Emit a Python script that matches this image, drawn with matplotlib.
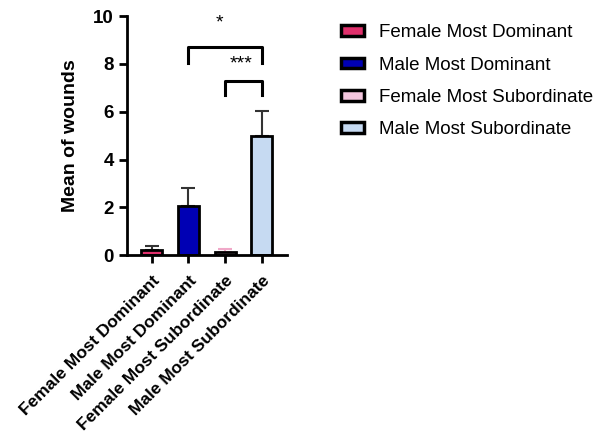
import numpy as np
import matplotlib.pyplot as plt
from matplotlib.patches import Patch

plt.rcParams['font.family'] = ['Liberation Sans', 'DejaVu Sans']

groups = ['Female Most Dominant', 'Male Most Dominant',
          'Female Most Subordinate', 'Male Most Subordinate']
means = [0.2, 2.05, 0.12, 5.0]
sem = [0.17, 0.75, 0.15, 1.05]
colors = ['#e0306c', '#0000b4', '#f4c6de', '#c6daf2']
err_colors = ['#333333', '#333333', '#f0a8c8', '#333333']

fig = plt.figure(figsize=(6.1, 4.34), dpi=100)
ax = fig.add_axes([0.208, 0.412, 0.262, 0.551])

x = np.arange(len(groups))
ax.bar(x, means, width=0.57, color=colors, edgecolor='black', linewidth=2, zorder=2)
for i in range(len(groups)):
    ax.errorbar(x[i], means[i], yerr=[[0], [sem[i]]], fmt='none',
                ecolor=err_colors[i], elinewidth=1.5, capsize=5, capthick=1.5, zorder=1)

# significance brackets
def bracket(x1, x2, y, h, label, tx, ty):
    ax.plot([x1, x1, x2, x2], [y - h, y, y, y - h], color='black', lw=2.2,
            clip_on=False)
    ax.text(tx, ty, label, ha='center', va='center', fontsize=14,
            clip_on=False)

bracket(1, 3, 8.7, 0.65, '*', 1.84, 9.7)
bracket(2, 3, 7.3, 0.6, '***', 2.43, 8.0)

ax.set_xlim(-0.68, 3.68)
ax.set_ylim(0, 10)
ax.set_yticks([0, 2, 4, 6, 8, 10])
ax.set_xticks(x)
ax.set_xticklabels(groups, rotation=45, ha='right', rotation_mode='anchor',
                   fontsize=12.5, fontweight='bold')
for lab in ax.get_yticklabels():
    lab.set_fontsize(13.5)
    lab.set_fontweight('bold')
ax.set_ylabel('Mean of wounds', fontsize=14, fontweight='bold', labelpad=10)

ax.spines['top'].set_visible(False)
ax.spines['right'].set_visible(False)
ax.spines['left'].set_linewidth(2)
ax.spines['bottom'].set_linewidth(2)
ax.tick_params(axis='both', width=2, length=6)
ax.tick_params(axis='x', pad=7)

handles = [Patch(facecolor=c, edgecolor='black', linewidth=2.5) for c in colors]
fig.legend(handles, groups, loc='upper left', bbox_to_anchor=(0.531, 0.983),
           frameon=False, fontsize=13.5, handlelength=1.25, handleheight=0.5,
           labelspacing=0.82, handletextpad=0.8)

fig.savefig('out.png', dpi=100)
